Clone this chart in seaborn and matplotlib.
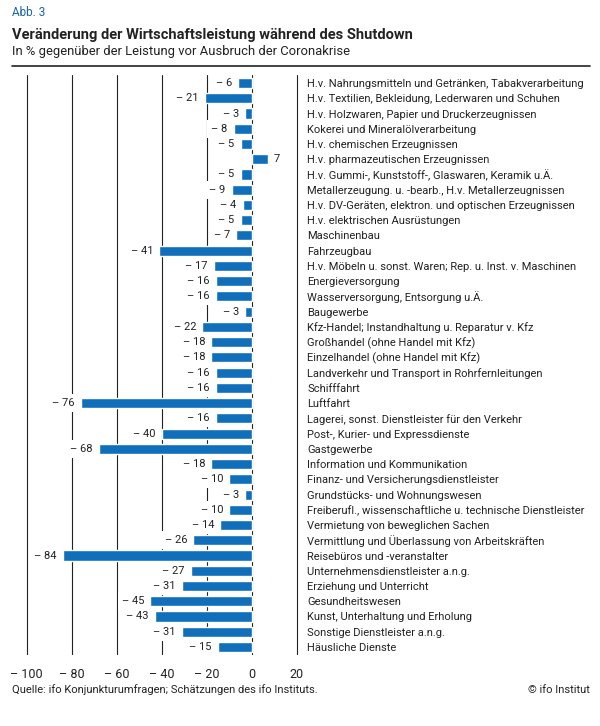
import matplotlib
matplotlib.use('Agg')
import matplotlib.pyplot as plt
from matplotlib.lines import Line2D
import seaborn as sns
import pandas as pd

# Data
categories = [
    'H.v. Nahrungsmitteln und Getränken, Tabakverarbeitung',
    'H.v. Textilien, Bekleidung, Lederwaren und Schuhen',
    'H.v. Holzwaren, Papier und Druckerzeugnissen',
    'Kokerei und Mineralölverarbeitung',
    'H.v. chemischen Erzeugnissen',
    'H.v. pharmazeutischen Erzeugnissen',
    'H.v. Gummi-, Kunststoff-, Glaswaren, Keramik u.Ä.',
    'Metallerzeugung. u. -bearb., H.v. Metallerzeugnissen',
    'H.v. DV-Geräten, elektron. und optischen Erzeugnissen',
    'H.v. elektrischen Ausrüstungen',
    'Maschinenbau',
    'Fahrzeugbau',
    'H.v. Möbeln u. sonst. Waren; Rep. u. Inst. v. Maschinen',
    'Energieversorgung',
    'Wasserversorgung, Entsorgung u.Ä.',
    'Baugewerbe',
    'Kfz-Handel; Instandhaltung u. Reparatur v. Kfz',
    'Großhandel (ohne Handel mit Kfz)',
    'Einzelhandel (ohne Handel mit Kfz)',
    'Landverkehr und Transport in Rohrfernleitungen',
    'Schifffahrt',
    'Luftfahrt',
    'Lagerei, sonst. Dienstleister für den Verkehr',
    'Post-, Kurier- und Expressdienste',
    'Gastgewerbe',
    'Information und Kommunikation',
    'Finanz- und Versicherungsdienstleister',
    'Grundstücks- und Wohnungswesen',
    'Freiberufl., wissenschaftliche u. technische Dienstleister',
    'Vermietung von beweglichen Sachen',
    'Vermittlung und Überlassung von Arbeitskräften',
    'Reisebüros und -veranstalter',
    'Unternehmensdienstleister a.n.g.',
    'Erziehung und Unterricht',
    'Gesundheitswesen',
    'Kunst, Unterhaltung und Erholung',
    'Sonstige Dienstleister a.n.g.',
    'Häusliche Dienste',
]
values = [-6, -21, -3, -8, -5, 7, -5, -9, -4, -5, -7, -41, -17, -16, -16, -3,
          -22, -18, -18, -16, -16, -76, -16, -40, -68, -18, -10, -3, -10, -14,
          -26, -84, -27, -31, -45, -43, -31, -15]
xticks = [-100, -80, -60, -40, -20, 0, 20]
xtick_labels = ['– 100', '– 80', '– 60', '– 40', '– 20', '0', '20']

df = pd.DataFrame({'Branche': categories, 'Veraenderung': values})

bar_color = '#0f6fba'
text_color = '#222222'

sns.set_style('white')
plt.rcParams['font.family'] = ['Roboto', 'DejaVu Sans']

fig = plt.figure(figsize=(6, 7.26), dpi=100)
W, H = 600, 726
ax_left, ax_right = 22, 301.5
ax_top, ax_bottom = 75.4, 654.6
ax = fig.add_axes([ax_left / W, 1 - ax_bottom / H,
                   (ax_right - ax_left) / W, (ax_bottom - ax_top) / H])

for x in xticks:
    ax.axvline(x, color='#222222', lw=0.8, zorder=0)

sns.barplot(data=df, x='Veraenderung', y='Branche', orient='h',
            color=bar_color, width=0.66, saturation=1, ax=ax, zorder=2)

# value labels, white box hides the grid lines behind them
labels = [f'– {abs(v)}' if v < 0 else f'{v}' for v in values]
texts = ax.bar_label(ax.containers[0], labels=labels, padding=4.5,
                     fontsize=8, color=text_color)
for t in texts:
    t.set_bbox(dict(facecolor='white', edgecolor='none', pad=2.8))
    t.set_zorder(3)

ax.set_xlim(-102, 22)
ax.set_ylim(37.5, -0.5)
ax.set_xticks(xticks)
ax.set_xticklabels(xtick_labels, fontsize=9, color=text_color)
ax.tick_params(axis='x', length=0, pad=10)
ax.yaxis.tick_right()
ax.tick_params(axis='y', length=0, pad=4)
for lbl in ax.get_yticklabels():
    lbl.set_fontsize(8)
    lbl.set_color(text_color)
    lbl.set_ha('left')
ax.set_xlabel('')
ax.set_ylabel('')
for s in ax.spines.values():
    s.set_visible(False)

# Header
fig.text(12 / W, 1 - 13 / H, 'Abb. 3', fontsize=8.5, color='#1a64a8', va='center')
fig.text(12 / W, 1 - 35 / H, 'Veränderung der Wirtschaftsleistung während des Shutdown',
         fontsize=10.5, fontweight='bold', color=text_color, va='center')
fig.text(12 / W, 1 - 52 / H, 'In % gegenüber der Leistung vor Ausbruch der Coronakrise',
         fontsize=9.4, color=text_color, va='center')
fig.add_artist(Line2D([12 / W, 590 / W], [1 - 66 / H, 1 - 66 / H],
                      color='#222222', lw=1.2))

# Footer
fig.text(12 / W, 1 - 690 / H, 'Quelle: ifo Konjunkturumfragen; Schätzungen des ifo Instituts.',
         fontsize=8, color=text_color, va='center')
fig.text(590 / W, 1 - 690 / H, '© ifo Institut', fontsize=8, color=text_color,
         va='center', ha='right')

fig.savefig('out.png', dpi=100)
